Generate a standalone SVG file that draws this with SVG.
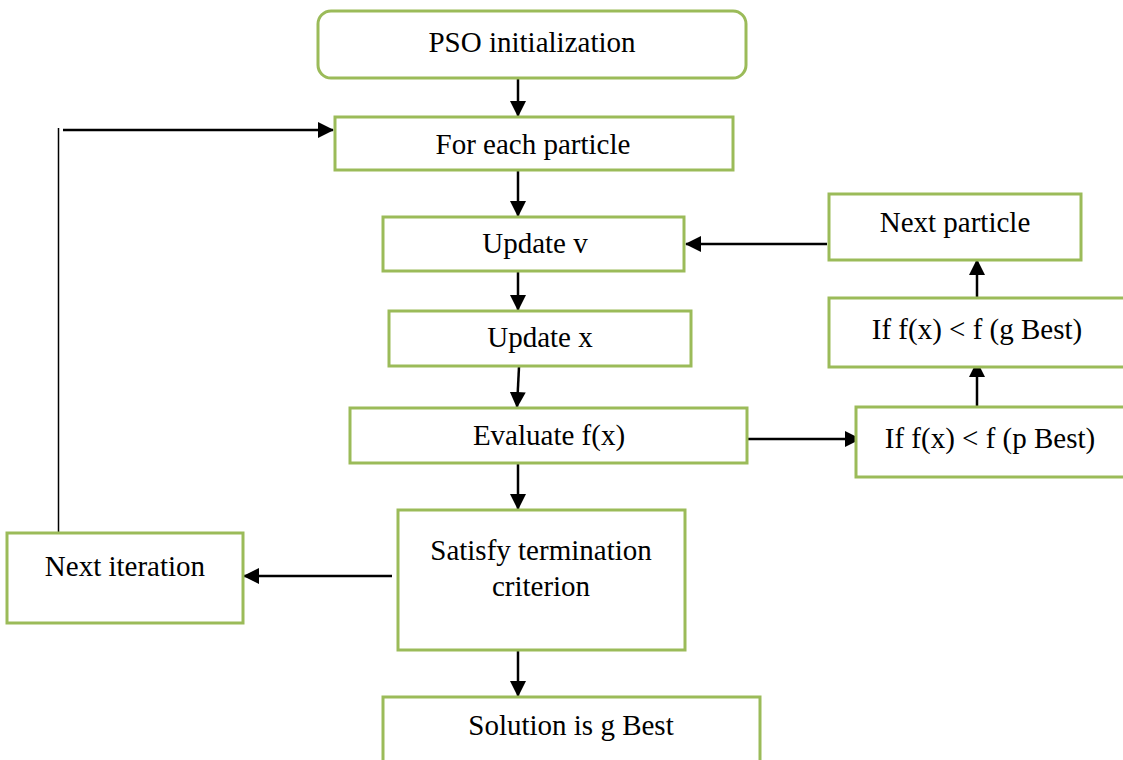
<svg xmlns="http://www.w3.org/2000/svg" width="1123" height="760" viewBox="0 0 1123 760">
<style>
.box{fill:#fff;stroke:#9BBB59;stroke-width:3}
.t{font-family:"Liberation Serif","Times New Roman",serif;font-size:29px;fill:#000;text-anchor:middle}
.c{stroke:#000;stroke-width:2.5;fill:none}
</style>
<defs>
<marker id="ah" markerUnits="userSpaceOnUse" markerWidth="16" markerHeight="16" refX="15" refY="8" orient="auto">
<path d="M0,0 L16,8 L0,16 Z" fill="#000"/>
</marker>
</defs>
<rect width="1123" height="760" fill="#fff"/>
<g id="connectors">
<line class="c" x1="518" y1="79" x2="518" y2="116" marker-end="url(#ah)"/>
<line class="c" x1="518" y1="171" x2="518" y2="216" marker-end="url(#ah)"/>
<line class="c" x1="518" y1="272" x2="518" y2="310" marker-end="url(#ah)"/>
<line class="c" x1="519" y1="367" x2="517" y2="407" marker-end="url(#ah)"/>
<line class="c" x1="748" y1="439" x2="860" y2="439" marker-end="url(#ah)"/>
<line class="c" x1="977" y1="406" x2="977" y2="362" marker-end="url(#ah)"/>
<line class="c" x1="977" y1="297" x2="977" y2="260" marker-end="url(#ah)"/>
<line class="c" x1="827" y1="244" x2="686" y2="244" marker-end="url(#ah)"/>
<line class="c" x1="518" y1="464" x2="518" y2="509" marker-end="url(#ah)"/>
<line class="c" x1="392" y1="576" x2="244" y2="576" marker-end="url(#ah)"/>
<line class="c" x1="518" y1="651" x2="518" y2="696" marker-end="url(#ah)"/>
<line x1="58.5" y1="128" x2="58.5" y2="533" stroke="#000" stroke-width="1.5"/>
<line class="c" x1="63" y1="130" x2="333" y2="130" marker-end="url(#ah)"/>
</g>
<g id="pso-init">
<rect class="box" x="318" y="11" width="428" height="67" rx="13"/>
<text class="t" x="532" y="52">PSO initialization</text>
</g>
<g id="for-each">
<rect class="box" x="335" y="117" width="398" height="53"/>
<text class="t" x="533" y="154">For each particle</text>
</g>
<g id="update-v">
<rect class="box" x="383" y="217" width="301" height="54"/>
<text class="t" x="535" y="253">Update v</text>
</g>
<g id="update-x">
<rect class="box" x="389" y="311" width="302" height="55"/>
<text class="t" x="540" y="347">Update x</text>
</g>
<g id="evaluate">
<rect class="box" x="350" y="408" width="397" height="55"/>
<text class="t" x="549" y="445">Evaluate f(x)</text>
</g>
<g id="pbest">
<rect class="box" x="856" y="407" width="280" height="70"/>
<text class="t" x="990" y="448">If f(x) &lt; f (p Best)</text>
</g>
<g id="gbest">
<rect class="box" x="829" y="298" width="310" height="69"/>
<text class="t" x="977" y="339">If f(x) &lt; f (g Best)</text>
</g>
<g id="next-particle">
<rect class="box" x="829" y="194" width="252" height="66"/>
<text class="t" x="955" y="232">Next particle</text>
</g>
<g id="satisfy">
<rect class="box" x="398" y="510" width="287" height="140"/>
<text class="t" x="541" y="560">Satisfy termination</text>
<text class="t" x="541" y="596">criterion</text>
</g>
<g id="next-iteration">
<rect class="box" x="7" y="533" width="236" height="90"/>
<text class="t" x="125" y="576">Next iteration</text>
</g>
<g id="solution">
<rect class="box" x="383" y="697" width="377" height="80"/>
<text class="t" x="571" y="735">Solution is g Best</text>
</g>
</svg>
